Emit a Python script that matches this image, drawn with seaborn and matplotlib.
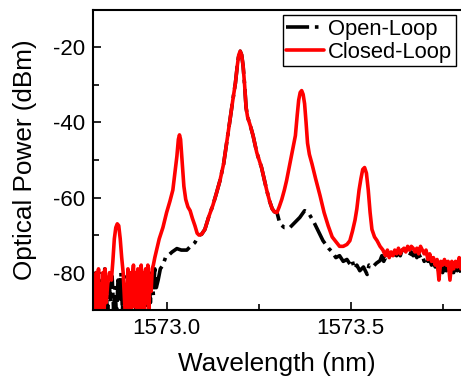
import numpy as np
import pandas as pd
import matplotlib
matplotlib.use("Agg")
import matplotlib.pyplot as plt
from matplotlib.ticker import MultipleLocator, AutoMinorLocator
import seaborn as sns

# ---- data ----
# closed loop, noisy start with the small side peak
red_left_w = [1572.800, 1572.803, 1572.806, 1572.809, 1572.812, 1572.815, 1572.818, 1572.821,
              1572.824, 1572.827, 1572.830, 1572.833, 1572.836, 1572.840, 1572.845, 1572.850,
              1572.854, 1572.858, 1572.862, 1572.866, 1572.870, 1572.874, 1572.878, 1572.882,
              1572.886, 1572.889, 1572.892, 1572.895, 1572.898, 1572.901, 1572.904, 1572.907,
              1572.910, 1572.913, 1572.916, 1572.919, 1572.922, 1572.925, 1572.928, 1572.931,
              1572.934, 1572.937, 1572.940, 1572.943, 1572.946, 1572.949, 1572.952, 1572.955,
              1572.958, 1572.961, 1572.964]
red_left_p = [-88, -81, -92, -80, -91, -79, -90, -83, -93, -80, -92, -79, -88, -83, -80, -82,
              -77, -71, -68, -67, -67.5, -71, -76, -80, -88, -93, -86, -79, -91, -80, -93, -81,
              -78, -89, -80, -93, -79, -85, -92, -78, -90, -80, -92, -79, -88, -78, -90, -81,
              -85, -79, -78]
red_rise_w = [1572.968, 1572.980, 1572.990, 1573.000, 1573.009, 1573.017, 1573.023, 1573.028,
              1573.032, 1573.035, 1573.038, 1573.042, 1573.047, 1573.052, 1573.058, 1573.064,
              1573.070, 1573.077, 1573.083]
red_rise_p = [-76, -71, -68, -64, -61, -58, -53, -49, -44.5, -43.3, -44.5, -50, -57, -60.5,
              -62.5, -63.5, -65.5, -67.5, -69.5]

# central part where both curves coincide
core_w = [1573.088, 1573.095, 1573.104, 1573.115, 1573.126, 1573.135, 1573.145, 1573.155,
          1573.164, 1573.172, 1573.180, 1573.187, 1573.192, 1573.196, 1573.200, 1573.204,
          1573.208, 1573.212, 1573.216, 1573.220, 1573.228, 1573.235, 1573.245, 1573.258,
          1573.265, 1573.272, 1573.280, 1573.287, 1573.293, 1573.300]
core_p = [-70, -69.8, -68.5, -65, -62, -59, -55.5, -51, -45, -39.5, -34, -29.5, -25, -22,
          -21, -22, -25, -30, -36, -38.5, -41, -43.5, -48, -52, -55, -58, -61, -63, -63.8, -64]

red_right_w = [1573.306, 1573.313, 1573.320, 1573.326, 1573.333, 1573.340, 1573.345, 1573.350,
               1573.355, 1573.359, 1573.363, 1573.367, 1573.371, 1573.375, 1573.379, 1573.383,
               1573.388, 1573.395, 1573.405, 1573.417, 1573.428, 1573.439, 1573.450, 1573.462,
               1573.470, 1573.480, 1573.490, 1573.498, 1573.505, 1573.512, 1573.517, 1573.523,
               1573.528, 1573.533, 1573.538, 1573.543, 1573.548, 1573.553, 1573.558, 1573.565,
               1573.572, 1573.580, 1573.588, 1573.590, 1573.595, 1573.600, 1573.605, 1573.610,
               1573.615, 1573.620, 1573.625, 1573.630, 1573.635, 1573.640, 1573.645, 1573.650,
               1573.655, 1573.660, 1573.665, 1573.670, 1573.675, 1573.680, 1573.685, 1573.690,
               1573.695, 1573.700, 1573.705, 1573.710, 1573.715, 1573.720, 1573.725, 1573.730,
               1573.735, 1573.740, 1573.745, 1573.750, 1573.755, 1573.760, 1573.765, 1573.770,
               1573.775, 1573.780, 1573.785, 1573.790, 1573.795, 1573.800]
red_right_p = [-62.5, -60.5, -58, -55.5, -52, -48.5, -46, -43.5, -38, -34, -32, -31.5, -32.5,
               -35, -40, -45.5, -48.5, -51, -55, -59.5, -64, -67.5, -70.5, -72, -73, -73, -72.5,
               -71.5, -69, -66, -63, -58, -55, -52.5, -52, -53.5, -58, -64, -68.5, -70.5, -71.5,
               -73, -74, -74.5, -75.5, -74, -76, -74.5, -75.5, -74, -75, -73.5, -75, -74, -73.5,
               -74.5, -73, -74, -73, -73.5, -74.5, -73.5, -75, -73, -74, -75, -74, -76.5, -75,
               -77, -76, -78, -76.5, -82, -77, -78, -76.5, -78, -77, -82, -77, -79, -77, -78.5,
               -76, -79]

# open loop
blk_left_w = [1572.800, 1572.804, 1572.808, 1572.812, 1572.816, 1572.820, 1572.824, 1572.828,
              1572.832, 1572.836, 1572.840, 1572.844, 1572.848, 1572.852, 1572.856, 1572.860,
              1572.864, 1572.868, 1572.872, 1572.876, 1572.880, 1572.884, 1572.888, 1572.892,
              1572.896, 1572.900, 1572.904, 1572.908, 1572.912, 1572.916, 1572.920, 1572.924,
              1572.928, 1572.932, 1572.936, 1572.940, 1572.944, 1572.948, 1572.952, 1572.956,
              1572.960, 1572.964, 1572.968, 1572.972, 1572.977, 1572.983, 1572.990, 1572.997,
              1573.004, 1573.015, 1573.028, 1573.040, 1573.055, 1573.065, 1573.077]
blk_left_p = [-84, -90, -80, -88, -84, -92, -82, -89, -79, -86, -91, -83, -88, -81, -90, -84,
              -92, -82, -87, -80, -90, -83, -89, -81, -86, -91, -82, -88, -80, -90, -84, -92,
              -82, -87, -80, -89, -83, -91, -81, -88, -80, -86, -79, -84, -82, -79, -78, -76,
              -75.5, -74.5, -73.6, -74, -74, -73, -72]
blk_right_w = [1573.308, 1573.320, 1573.335, 1573.350, 1573.362, 1573.375, 1573.385, 1573.400,
               1573.410, 1573.425, 1573.440, 1573.450, 1573.460, 1573.470, 1573.480, 1573.490,
               1573.500, 1573.505, 1573.510, 1573.517, 1573.525, 1573.535, 1573.545, 1573.550,
               1573.560, 1573.570, 1573.580, 1573.585, 1573.590, 1573.595, 1573.600, 1573.605,
               1573.610, 1573.615, 1573.620, 1573.625, 1573.630, 1573.635, 1573.640, 1573.645,
               1573.650, 1573.655, 1573.660, 1573.665, 1573.670, 1573.675, 1573.680, 1573.685,
               1573.690, 1573.695, 1573.700, 1573.705, 1573.710, 1573.715, 1573.720, 1573.725,
               1573.730, 1573.735, 1573.740, 1573.745, 1573.750, 1573.755, 1573.760, 1573.765,
               1573.770, 1573.775, 1573.780, 1573.785, 1573.790, 1573.795, 1573.800]
blk_right_p = [-67, -68, -68, -66.5, -65.3, -63.5, -64, -66.5, -68.5, -71.5, -73.5, -74.5, -76,
               -75.5, -77, -76.5, -78, -77, -79, -78, -79.5, -78.5, -80.5, -78, -78.5, -77.5,
               -76.8, -75.5, -77, -76, -76.5, -75, -76, -75.5, -74.5, -75.5, -74.5, -75.5, -74,
               -75, -74, -74.5, -75.5, -74.5, -75.5, -75, -76, -75, -76, -75.5, -77, -76, -77,
               -76.5, -78, -77, -78.5, -77.5, -80, -78, -80, -78.5, -79.5, -78, -81, -78.5, -80,
               -78, -79.5, -78, -80]

open_df = pd.DataFrame({"wl": np.concatenate([blk_left_w, core_w, blk_right_w]),
                        "p": np.concatenate([blk_left_p, core_p, blk_right_p])})
closed_df = pd.DataFrame({"wl": np.concatenate([red_left_w, red_rise_w, core_w, red_right_w]),
                          "p": np.concatenate([red_left_p, red_rise_p, core_p, red_right_p])})

sns.set_style("ticks")
plt.rcParams["font.family"] = ["Liberation Sans", "DejaVu Sans"]
plt.rcParams["axes.unicode_minus"] = False
plt.rcParams["text.color"] = "black"
plt.rcParams["axes.labelcolor"] = "black"
plt.rcParams["xtick.labelcolor"] = "black"
plt.rcParams["ytick.labelcolor"] = "black"

fig = plt.figure(figsize=(4.61, 3.81), dpi=100)
ax = fig.add_axes([0.2017, 0.186, 0.7983, 0.788])

sns.lineplot(data=open_df, x="wl", y="p", ax=ax, sort=False, estimator=None,
             color="black", linestyle="-.", linewidth=2.6, label="Open-Loop")
sns.lineplot(data=closed_df, x="wl", y="p", ax=ax, sort=False, estimator=None,
             color="#ff0000", linewidth=2.6, label="Closed-Loop")

ax.set_xlim(1572.8, 1573.8)
ax.set_ylim(-90, -10)
ax.xaxis.set_major_locator(MultipleLocator(0.5))
ax.xaxis.set_minor_locator(AutoMinorLocator(2))
ax.yaxis.set_major_locator(MultipleLocator(20))
ax.yaxis.set_minor_locator(AutoMinorLocator(2))
ax.xaxis.set_major_formatter(matplotlib.ticker.FormatStrFormatter("%.1f"))
ax.tick_params(which="both", direction="in", labelsize=16, width=1.2, color="black")
ax.tick_params(which="major", length=6, pad=6)
ax.tick_params(which="minor", length=4)

for side in ["left", "top", "bottom"]:
    ax.spines[side].set_linewidth(1.5)
    ax.spines[side].set_color("black")
ax.spines["right"].set_visible(False)

ax.set_xlabel("Wavelength (nm)", fontsize=18.8, labelpad=9)
ax.set_ylabel("Optical Power (dBm)", fontsize=18.8, labelpad=11)

leg = ax.legend(loc="upper right", fontsize=15.8, frameon=True, fancybox=False,
                edgecolor="black", framealpha=1, borderpad=0.15, labelspacing=0.1,
                handlelength=1.7, handletextpad=0.2, borderaxespad=0.25)
leg.get_frame().set_linewidth(1.0)

fig.savefig("out.png", dpi=100)
